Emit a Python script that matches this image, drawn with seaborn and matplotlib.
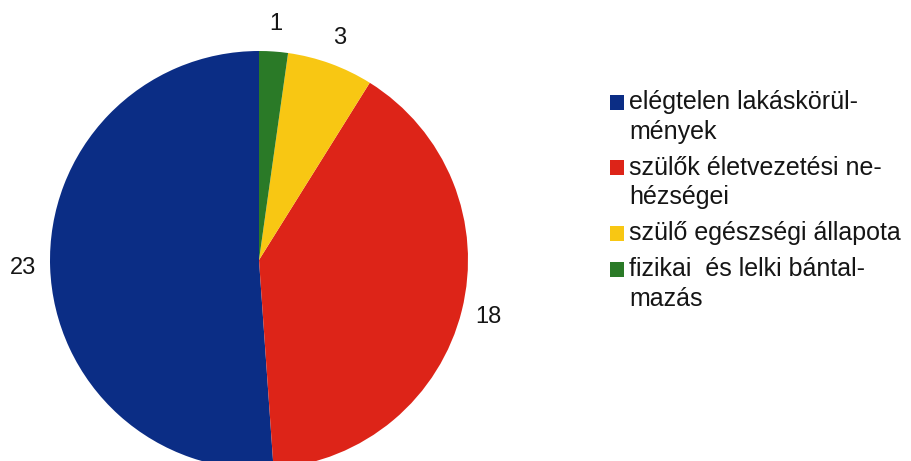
import matplotlib
matplotlib.use("Agg")
import matplotlib.pyplot as plt
import seaborn as sns
from matplotlib.patches import Rectangle
import numpy as np

categories = [
    "elégtelen lakáskörül-\nmények",
    "szülők életvezetési ne-\nhézségei",
    "szülő egészségi állapota",
    "fizikai  és lelki bántal-\nmazás",
]
values = [23, 18, 3, 1]
value_labels = ["23", "18", "3", "1"]
colors = ["#0B2D85", "#DD2418", "#F8C713", "#2A7A27"]

sns.set_theme(style="white")
plt.rcParams["font.family"] = ["Liberation Sans", "DejaVu Sans"]

W, H = 912, 461
fig = plt.figure(figsize=(W / 100, H / 100), dpi=100)
fig.patch.set_facecolor("white")

# pie axes in pixel geometry
cx, cy, R = 259, 260, 209
ax = fig.add_axes([(cx - R) / W, (H - (cy + R)) / H, 2 * R / W, 2 * R / H])
wedges, texts = ax.pie(
    values,
    labels=value_labels,
    colors=colors,
    startangle=90,
    counterclock=True,
    labeldistance=1.13,
    wedgeprops=dict(linewidth=0),
    textprops=dict(fontsize=17, color="#151515"),
)
for t in texts:
    t.set_horizontalalignment("center")
    t.set_verticalalignment("center")
ax.set_xlim(-1, 1)
ax.set_ylim(-1, 1)
ax.set_aspect("equal")
ax.axis("off")

# legend drawn with first-line-aligned markers
x_sq, x_txt = 610, 629
sq_w, sq_h = 14, 15
line_step = 29.5
entry_step = 36
y = 109  # baseline of first line (pixels from top)
for cat, col in zip(categories, colors):
    lines = cat.split("\n")
    fig.patches.append(Rectangle(((x_sq) / W, (H - (y + 1)) / H), sq_w / W, sq_h / H,
                                 transform=fig.transFigure, facecolor=col,
                                 edgecolor="none", figure=fig))
    for i, ln in enumerate(lines):
        fig.text(x_txt / W, (H - (y + i * line_step)) / H, ln, fontsize=18,
                 color="#151515", ha="left", va="baseline")
    y += (len(lines) - 1) * line_step + entry_step

fig.savefig("out.png", dpi=100, facecolor="white")
